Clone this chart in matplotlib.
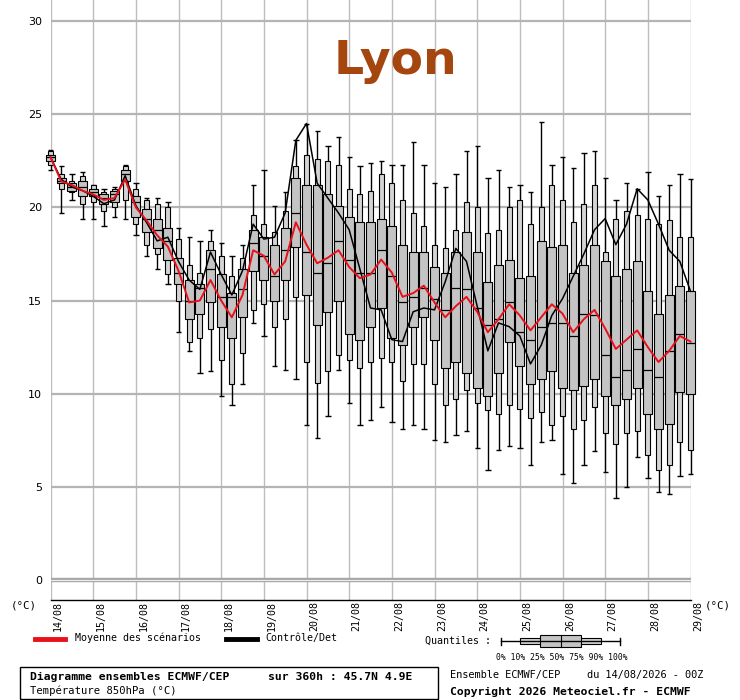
import numpy as np
import matplotlib
matplotlib.use("Agg")
from matplotlib import pyplot as plt
from matplotlib.patches import Rectangle
from matplotlib.lines import Line2D

"""
    Diagramme ensembles ECMWF/CEP - Lyon, T850
"""

hours = np.arange(0, 361, 6)
days = ["14/08", "15/08", "16/08", "17/08", "18/08", "19/08", "20/08", "21/08",
        "22/08", "23/08", "24/08", "25/08", "26/08", "27/08", "28/08", "29/08"]

# quantiles (°C) : 0% 10% 25% 50% 75% 90% 100%
q0 = [22.0, 19.7, 20.4, 19.4, 19.4, 19.0, 19.5, 19.4, 18.5, 17.4, 16.7, 15.9, 13.3, 12.3, 11.1, 11.2,
      9.9, 9.4, 10.5, 13.8, 13.1, 11.5, 11.3, 10.8, 8.3, 7.6, 8.8, 11.3, 9.5, 8.3, 8.6,
      9.3, 8.5, 8.1, 8.3, 8.1, 7.5, 7.4, 7.8, 8.0, 7.1, 5.9, 7.0, 7.2, 7.1, 6.2,
      7.4, 7.5, 5.7, 5.2, 6.2, 6.9, 5.8, 4.4, 5.0, 6.6, 5.5, 4.7, 4.6, 5.6, 5.7]
q10 = [22.3, 21.0, 20.8, 20.2, 20.3, 19.8, 20.0, 20.4, 19.1, 18.0, 17.5, 16.4, 15.0, 12.8, 13.0, 13.5,
       11.8, 10.5, 12.2, 14.5, 14.8, 13.6, 14.0, 15.2, 11.7, 10.6, 11.2, 12.1, 11.8, 11.4, 11.7,
       11.9, 11.7, 10.7, 11.6, 11.6, 10.5, 9.4, 9.7, 10.2, 9.5, 9.1, 8.9, 9.4, 9.2, 8.7,
       9.0, 8.3, 8.8, 8.1, 8.6, 9.3, 7.9, 7.3, 7.9, 8.0, 6.7, 5.9, 6.2, 7.4, 7.0]
q25 = [22.5, 21.3, 20.9, 20.6, 20.6, 20.2, 20.3, 21.4, 19.5, 18.7, 17.8, 17.2, 15.9, 14.0, 14.3, 14.9,
       13.6, 13.0, 14.1, 16.6, 16.1, 15.0, 16.1, 17.9, 15.3, 13.7, 14.4, 15.0, 13.2, 12.9, 13.6,
       14.6, 13.0, 12.6, 13.6, 14.1, 12.9, 11.4, 11.7, 11.1, 10.3, 9.9, 11.1, 12.8, 11.5, 10.5,
       10.8, 11.2, 10.3, 10.2, 10.4, 10.8, 9.9, 9.4, 9.7, 10.3, 8.9, 8.1, 8.4, 10.1, 10.0]
q50 = [22.7, 21.4, 21.1, 21.1, 20.8, 20.5, 20.7, 21.8, 20.3, 19.4, 18.8, 18.2, 16.5, 15.0, 15.7, 16.7,
       15.2, 15.2, 15.6, 18.1, 17.4, 16.3, 17.7, 19.7, 17.6, 16.5, 17.0, 18.2, 17.2, 16.5, 16.5,
       17.7, 16.3, 14.9, 15.2, 15.7, 15.1, 14.5, 15.7, 15.6, 14.6, 13.7, 14.0, 14.9, 13.3, 12.9,
       13.6, 13.8, 13.8, 13.1, 14.3, 14.2, 12.1, 10.9, 11.3, 12.4, 11.3, 10.9, 12.3, 13.2, 12.7]
q75 = [22.8, 21.6, 21.3, 21.4, 21.0, 20.7, 20.9, 22.0, 20.6, 19.9, 19.4, 18.9, 17.3, 16.1, 15.9, 17.7,
       16.4, 15.4, 16.7, 18.8, 18.4, 18.0, 18.9, 21.6, 21.2, 21.2, 20.7, 20.1, 19.5, 19.2, 19.2,
       19.4, 19.0, 18.0, 17.6, 17.6, 16.8, 16.5, 17.6, 18.7, 17.6, 16.0, 16.9, 17.2, 16.2, 16.3,
       18.2, 17.9, 18.0, 16.5, 16.9, 18.0, 17.1, 16.3, 16.7, 17.1, 15.5, 14.3, 15.3, 15.8, 15.5]
q90 = [23.0, 21.8, 21.4, 21.7, 21.2, 20.8, 21.0, 22.2, 21.0, 20.4, 20.2, 20.0, 18.3, 16.9, 16.5, 18.2,
       17.4, 16.3, 17.3, 19.6, 19.1, 18.7, 19.8, 22.2, 22.8, 22.6, 22.5, 22.3, 21.0, 20.7, 20.9,
       21.8, 21.3, 20.4, 19.7, 19.0, 18.0, 17.8, 18.8, 20.3, 20.0, 18.6, 18.8, 20.0, 20.4, 19.1,
       20.0, 21.2, 20.4, 19.2, 20.2, 21.2, 17.6, 19.4, 19.8, 19.6, 19.4, 19.1, 19.3, 18.4, 18.4]
q100 = [23.1, 22.2, 21.8, 21.9, 21.2, 21.0, 21.1, 22.3, 21.3, 20.5, 20.5, 20.3, 18.9, 18.4, 18.2, 18.8,
        18.1, 17.4, 18.0, 21.2, 22.0, 20.1, 20.8, 23.6, 24.5, 24.1, 23.3, 23.8, 22.7, 22.2, 22.4,
        22.5, 22.3, 22.3, 23.5, 22.3, 21.3, 21.1, 21.8, 23.0, 23.3, 21.6, 22.0, 21.1, 21.2, 20.8,
        24.6, 22.3, 22.7, 22.1, 22.9, 23.0, 21.6, 20.4, 21.3, 21.0, 21.9, 20.6, 21.2, 21.8, 21.5]

moyenne = [22.7, 21.4, 21.2, 20.9, 20.7, 20.4, 20.5, 21.5, 20.0, 19.3, 18.5, 17.9, 16.6, 14.9, 15.0, 16.1,
           15.0, 14.1, 15.3, 17.7, 17.4, 16.4, 17.1, 19.2, 18.0, 17.0, 17.3, 17.7, 16.8, 16.2, 16.4,
           17.2, 16.5, 15.2, 15.4, 15.8, 14.9, 14.1, 14.7, 15.2, 14.4, 13.3, 14.0, 14.8, 14.2, 13.4,
           14.1, 14.8, 14.3, 13.3, 14.0, 14.5, 13.5, 12.4, 12.9, 13.4, 12.5, 11.7, 12.3, 13.1, 12.8]
controle = [22.7, 21.5, 21.1, 20.9, 20.6, 20.2, 20.4, 21.7, 20.1, 19.2, 18.2, 18.4, 17.1, 16.1, 15.6, 17.6,
            16.4, 15.3, 16.6, 19.1, 18.3, 18.4, 19.7, 23.6, 24.5, 21.3, 20.5, 19.7, 18.8, 16.7, 14.6,
            14.5, 12.9, 12.8, 14.4, 14.6, 14.5, 16.0, 17.8, 17.1, 14.7, 12.3, 13.8, 13.6, 13.1, 11.6,
            12.6, 14.2, 15.1, 16.3, 17.5, 18.8, 19.4, 18.0, 19.1, 21.0, 20.4, 19.1, 17.7, 17.1, 15.5]

W, H = 740, 700


def px(x, y):
    return x / W, 1 - y / H


fig = plt.figure(figsize=(W / 100, H / 100), dpi=100)
fig.patch.set_facecolor("white")
ax = fig.add_axes([50.5 / W, 100 / H, 640 / W, 600 / H])
ax.set_xlim(0, 360)
ax.set_ylim(-1.07, 31.13)
for s in ["top", "left", "right"]:
    ax.spines[s].set_visible(False)
ax.spines["bottom"].set_color("black")
ax.spines["bottom"].set_linewidth(1)

# grille
for d in range(len(days)):
    ax.axvline(d * 24, color="#bdbdbd", lw=1, zorder=0)
for t in range(5, 31, 5):
    ax.axhline(t, color="#b4b4b4", lw=1.6, zorder=0)
ax.axhline(0, color="#a8a8a8", lw=3.2, zorder=0)
ax.axhline(0, color="white", lw=0.6, zorder=0)

ax.set_xticks([])
ax.set_yticks(range(0, 31, 5))
ax.set_yticklabels([str(t) for t in range(0, 31, 5)], fontsize=8, family="DejaVu Sans")
ax.tick_params(axis="y", length=0, pad=6)

# boites
q0, q10, q25, q50, q75, q90, q100 = map(np.array, (q0, q10, q25, q50, q75, q90, q100))
ax.vlines(hours, q0, q100, color="black", lw=1, zorder=2, clip_on=False)
ax.hlines(q0, hours - 1.5, hours + 1.5, color="black", lw=1, zorder=2, clip_on=False)
ax.hlines(q100, hours - 1.5, hours + 1.5, color="black", lw=1, zorder=2, clip_on=False)
ax.bar(hours, q90 - q10, bottom=q10, width=2.8, color="#d4d4d4", edgecolor="black",
       lw=0.8, zorder=3, clip_on=False)
ax.bar(hours, q75 - q25, bottom=q25, width=4.9, color="#c4c4c4", edgecolor="black",
       lw=0.8, zorder=4, clip_on=False)
ax.hlines(q50, hours - 2.45, hours + 2.45, color="black", lw=0.9, zorder=5, clip_on=False)

ax.plot(hours, controle, color="black", lw=1.1, zorder=6, clip_on=False)
ax.plot(hours, moyenne, color="#e8101a", lw=1.4, zorder=7, clip_on=False)

# titre
fig.text(*px(395, 62), "Lyon", color="#a4460e", fontsize=34, fontweight="bold",
         ha="center", va="center", family="DejaVu Sans")

mono = "DejaVu Sans Mono"
for d, lab in enumerate(days):
    fig.text(*px(58 + d * 42.67, 601), lab, rotation=90, fontsize=7.2, family=mono,
             ha="center", va="top")
fig.text(*px(24, 606), "(°C)", fontsize=7.8, family=mono, ha="center", va="center")
fig.text(*px(718, 606), "(°C)", fontsize=7.8, family=mono, ha="center", va="center")

# legende
fig.add_artist(Line2D([35 / W, 65 / W], [1 - 639 / H] * 2, color="#e8101a", lw=3.5))
fig.text(*px(75, 638), "Moyenne des scénarios", fontsize=7.2, family=mono, va="center")
fig.add_artist(Line2D([226 / W, 257 / W], [1 - 639 / H] * 2, color="black", lw=3.5))
fig.text(*px(265, 638), "Contrôle/Det", fontsize=7.2, family=mono, va="center")

fig.text(*px(425, 641), "Quantiles :", fontsize=7.2, family=mono, va="center")
gy = 1 - 641 / H
fig.add_artist(Line2D([501 / W, 620 / W], [gy, gy], color="black", lw=1))
for cx in (501, 620):
    fig.add_artist(Line2D([cx / W] * 2, [gy - 3.5 / H, gy + 3.5 / H], color="black", lw=1))
fig.add_artist(Rectangle(px(520, 644), 81 / W, 6 / H, transform=fig.transFigure,
                         facecolor="#d4d4d4", edgecolor="black", lw=0.8))
fig.add_artist(Rectangle(px(540, 647), 41 / W, 12 / H, transform=fig.transFigure,
                         facecolor="#c4c4c4", edgecolor="black", lw=0.8))
fig.add_artist(Line2D([561 / W] * 2, [1 - 647 / H, 1 - 635 / H], color="black", lw=0.8))
fig.text(*px(496, 657), "0% 10% 25% 50% 75% 90% 100%", fontsize=5.8, family=mono, va="center")

# cartouche
fig.add_artist(Rectangle(px(20, 699), 418 / W, 32 / H, transform=fig.transFigure,
                         facecolor="none", edgecolor="black", lw=1))
fig.text(*px(30, 677), "Diagramme ensembles ECMWF/CEP", fontsize=8.2, family=mono,
         fontweight="bold", va="center")
fig.text(*px(268, 677), "sur 360h : 45.7N 4.9E", fontsize=8.2, family=mono,
         fontweight="bold", va="center")
fig.text(*px(30, 691), "Température 850hPa (°C)", fontsize=7.6, family=mono, va="center")
fig.text(*px(450, 675), "Ensemble ECMWF/CEP", fontsize=7.4, family=mono, va="center")
fig.text(*px(587, 675), "du 14/08/2026 - 00Z", fontsize=7.4, family=mono, va="center")
fig.text(*px(450, 692), "Copyright 2026 Meteociel.fr - ECMWF", fontsize=8.2, family=mono,
         fontweight="bold", va="center")

fig.savefig("out.png", dpi=100)
